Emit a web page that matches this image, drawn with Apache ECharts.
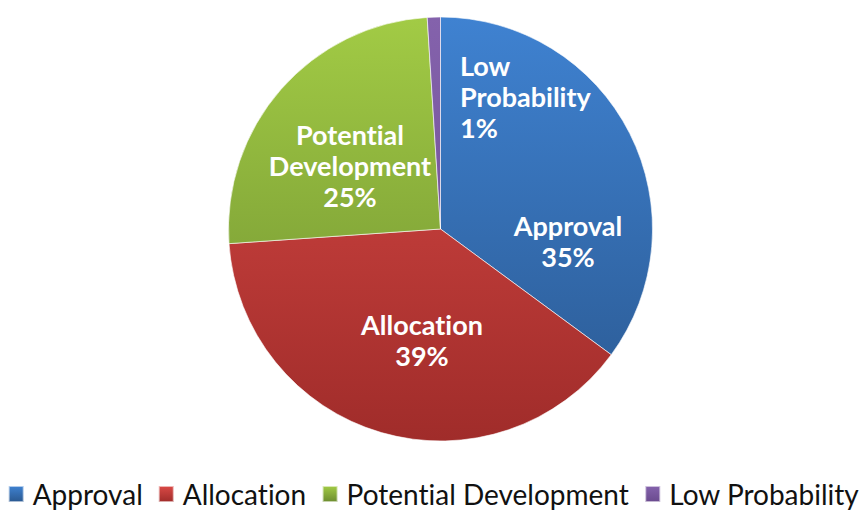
<!DOCTYPE html>
<html>
<head>
<meta charset="utf-8">
<script src="https://cdn.jsdelivr.net/npm/echarts@6/dist/echarts.min.js"></script>
<style>
html,body{margin:0;padding:0;background:#fff;}
#chart{width:867px;height:511px;}
#chart text{font-variant-ligatures:none;font-feature-settings:"liga" 0, "clig" 0;}
</style>
</head>
<body>
<div id="chart"></div>
<script>
// Data
var categories = ['Approval', 'Allocation', 'Potential Development', 'Low Probability'];
var values = [35.1, 38.8, 25.1, 1.0];

// Styling (kept separate from data)
var gradientStops = [
  ['#3F82D1', '#2A5890'],
  ['#DA4A46', '#A02C2A'],
  ['#A2CB45', '#6C8C2F'],
  ['#8462AC', '#6A4A8E']
];
var labelPos = [
  {x: 568, y: 241, align: 'center'},
  {x: 422, y: 340, align: 'center'},
  {x: 350, y: 165, align: 'center'},
  {x: 460, y: 96, align: 'left'}
];

var chart = echarts.init(document.getElementById('chart'), null, {renderer: 'svg'});

var seriesData = categories.map(function (name, i) {
  return {
    name: name,
    value: values[i],
    itemStyle: {
      color: {
        type: 'linear', global: true,
        x: 0, y: 17, x2: 0, y2: 441,
        colorStops: [
          {offset: 0, color: gradientStops[i][0]},
          {offset: 1, color: gradientStops[i][1]}
        ]
      }
    }
  };
});

var legendColors = gradientStops.map(function (s) {
  return {
    type: 'linear', x: 0, y: 0, x2: 0, y2: 1,
    colorStops: [{offset: 0, color: s[0]}, {offset: 1, color: s[1]}]
  };
});

chart.setOption({
  animation: false,
  legend: {
    data: categories.map(function (n, i) {
      return {name: n, itemStyle: {color: legendColors[i]}};
    }),
    bottom: -2,
    left: 'center',
    icon: 'rect',
    itemWidth: 15,
    itemHeight: 16,
    itemGap: 15,
    textStyle: {
      fontFamily: 'Lato',
      fontSize: 28,
      color: '#111111',
      padding: [0, 0, 0, 4]
    }
  },
  series: [{
    type: 'pie',
    center: [440.5, 229],
    radius: 212,
    startAngle: 90,
    clockwise: true,
    percentPrecision: 0,
    data: seriesData,
    itemStyle: {
      borderColor: 'rgba(255,255,255,0.6)',
      borderWidth: 1
    },
    label: {
      show: true,
      position: 'inside',
      formatter: function (p) {
        return p.name.replace(' ', '\n') + '\n' + p.percent + '%';
      },
      color: '#ffffff',
      fontFamily: 'Lato',
      fontWeight: 'bold',
      fontSize: 27,
      lineHeight: 31
    },
    labelLayout: function (params) {
      var lp = labelPos[params.dataIndex];
      return {x: lp.x, y: lp.y, align: lp.align, verticalAlign: 'middle'};
    },
    labelLine: {show: false},
    emphasis: {disabled: true}
  }]
});
</script>
</body>
</html>
